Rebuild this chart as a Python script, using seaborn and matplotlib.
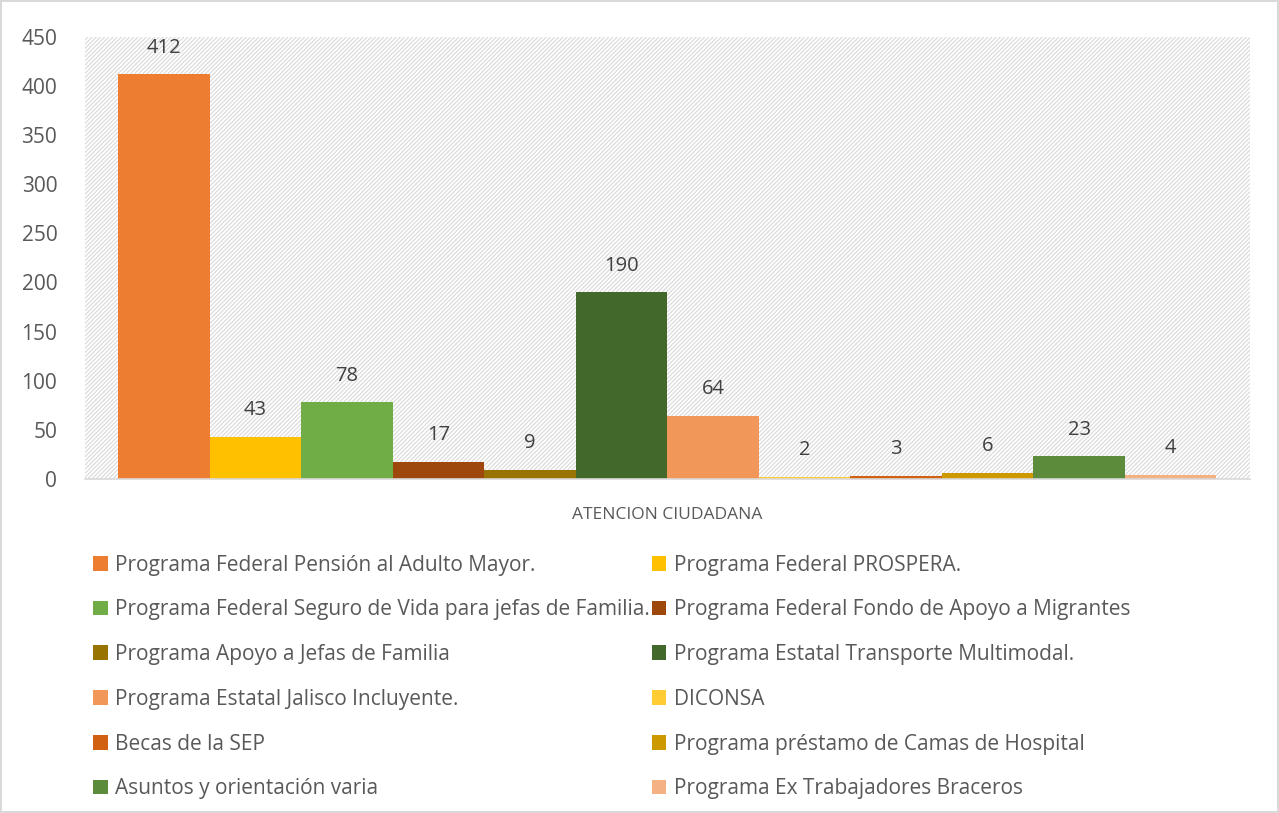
import matplotlib.pyplot as plt
import pandas as pd
import seaborn as sns

programas = [
    'Programa Federal Pensión al Adulto Mayor.',
    'Programa Federal PROSPERA.',
    'Programa Federal Seguro de Vida para jefas de Familia.',
    'Programa Federal Fondo de Apoyo a Migrantes',
    'Programa Apoyo a Jefas de Familia',
    'Programa Estatal Transporte Multimodal.',
    'Programa Estatal Jalisco Incluyente.',
    'DICONSA',
    'Becas de la SEP',
    'Programa préstamo de Camas de Hospital',
    'Asuntos y orientación varia',
    'Programa Ex Trabajadores Braceros',
]
atenciones = [412, 43, 78, 17, 9, 190, 64, 2, 3, 6, 23, 4]
colores = ['#ED7D31', '#FFC000', '#70AD47', '#9E480E', '#997300', '#43682B',
           '#F1975A', '#FFCD33', '#D26012', '#CC9900', '#5B8B3B', '#F4B183']
categoria = 'ATENCION CIUDADANA'

data = pd.DataFrame({'grupo': [categoria] * len(programas),
                     'programa': programas,
                     'atenciones': atenciones})

sns.set_theme(style='white')
plt.rcParams['font.family'] = ['Open Sans', 'DejaVu Sans']
plt.rcParams['hatch.color'] = '#d9d9d9'
plt.rcParams['hatch.linewidth'] = 0.8
gris = '#595959'

fig = plt.figure(figsize=(12.79, 8.13), dpi=100)
fig.patch.set_edgecolor('#d9d9d9')
fig.patch.set_linewidth(1.5)
ax = fig.add_axes([0.0665, 0.411, 0.9105, 0.5435])

sns.barplot(data=data, x='grupo', y='atenciones', hue='programa',
            hue_order=programas, palette=colores, width=0.943,
            saturation=1, linewidth=0, ax=ax, legend=True)

ax.patch.set_facecolor('white')
ax.patch.set_hatch('////////')
ax.patch.set_edgecolor('#d9d9d9')
ax.patch.set_linewidth(0)

for cont in ax.containers:
    ax.bar_label(cont, padding=12, fontsize=14.5, color='#404040')

ax.set_ylim(0, 450)
ax.set_yticks(range(0, 451, 50))
ax.tick_params(axis='y', labelsize=15, colors=gris, length=0, pad=20)
ax.tick_params(axis='x', labelsize=12.5, colors=gris, length=0, pad=20)
ax.set_xlabel('')
ax.set_ylabel('')
for s in ['top', 'right', 'left']:
    ax.spines[s].set_visible(False)
ax.spines['bottom'].set_color('#d9d9d9')
ax.spines['bottom'].set_linewidth(1.2)

handles, labels = ax.get_legend_handles_labels()
ax.get_legend().remove()
orden = list(range(0, 12, 2)) + list(range(1, 12, 2))
fig.legend([handles[i] for i in orden], [labels[i] for i in orden], ncol=2,
           loc='upper left', bbox_to_anchor=(0.058, 0.341), frameon=False,
           fontsize=15, labelcolor=gris, handlelength=0.7, handleheight=0.7,
           handletextpad=0.35, columnspacing=0.1, labelspacing=1.14)

fig.savefig('out.png', dpi=100)
